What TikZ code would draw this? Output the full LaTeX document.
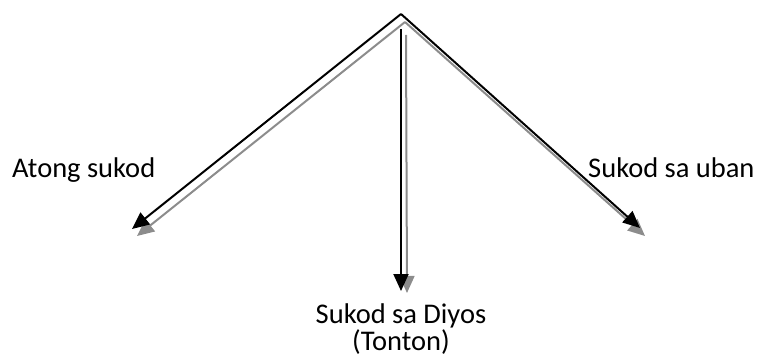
\documentclass[tikz,border=0pt]{standalone}
\usepackage{fontspec}
\setmainfont{Carlito}
\usetikzlibrary{arrows.meta}
\begin{document}
\begin{tikzpicture}[x=1pt,y=-1pt,
  blk/.style={draw=black,line width=2pt,-{Triangle[length=17pt,width=15pt]}},
  shd/.style={draw=gray!90,line width=2pt,-{Triangle[length=17pt,width=15pt]}},
  lbl/.style={font=\fontsize{28.5pt}{25pt}\selectfont,inner sep=0pt,text=black}]
\useasboundingbox (0,0) rectangle (762,358);
% shadow coordinates
\coordinate (sapex) at (405,22);
\coordinate (sleft) at (137,236);
\coordinate (sright) at (645,236);
\coordinate (smtop) at (406,35);
\coordinate (smbot) at (407,293);
% main coordinates
\coordinate (apex) at (401,14);
\coordinate (left) at (132,229);
\coordinate (right) at (640,228);
\coordinate (mtop) at (401,29);
\coordinate (mbot) at (401,291);
% shadows
\draw[shd] (sapex) -- (sleft);
\draw[shd] (sapex) -- (sright);
\draw[shd] (smtop) -- (smbot);
% arrows
\draw[blk] (apex) -- (left);
\draw[blk] (apex) -- (right);
\draw[blk] (mtop) -- (mbot);
% labels
\node[lbl,anchor=base west] (a) at (12,178) {Atong sukod};
\node[lbl,anchor=base west] (b) at (588,178) {Sukod sa uban};
\node[lbl,anchor=base,align=center] (c) at (401,350) {Sukod sa Diyos\\(Tonton)};
\end{tikzpicture}
\end{document}
